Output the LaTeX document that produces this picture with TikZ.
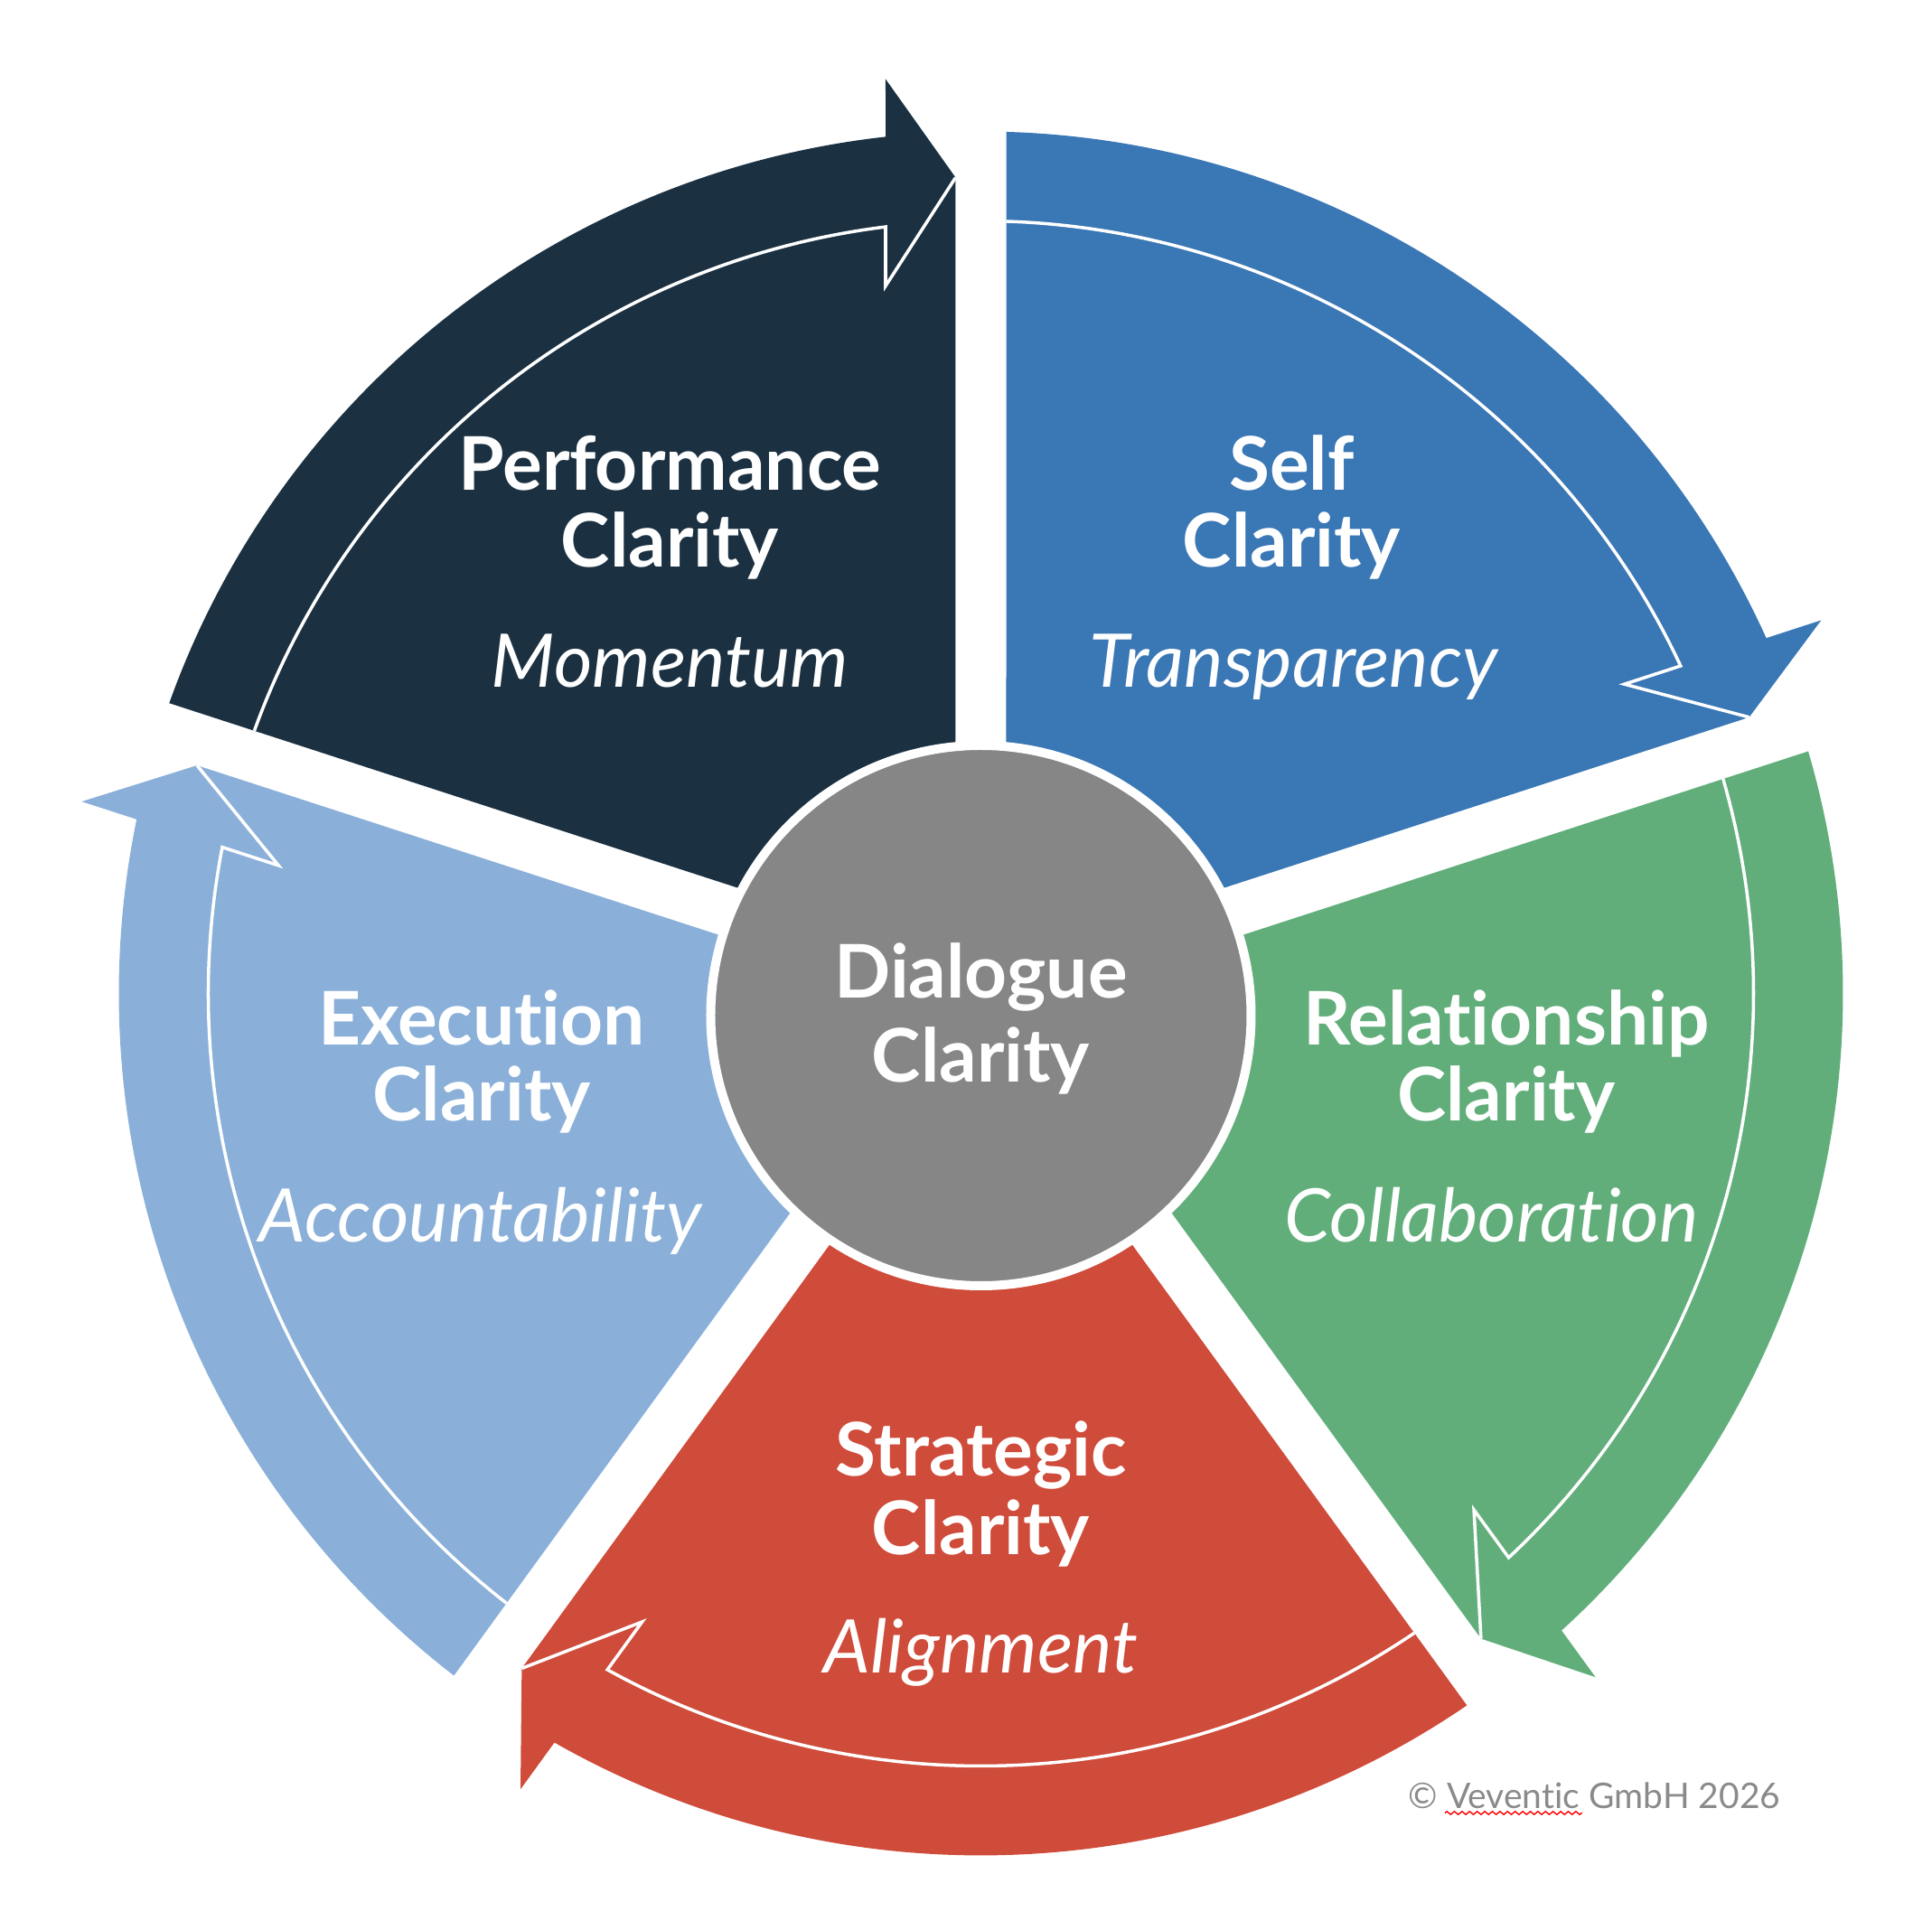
\documentclass[tikz,border=0pt]{standalone}
\usepackage{fontspec}
\setmainfont{Lato}[Ligatures={NoCommon}]
\usetikzlibrary{decorations.pathmorphing}
\definecolor{cnavy}{HTML}{1B3142}
\definecolor{cblue}{HTML}{3A77B5}
\definecolor{cgreen}{HTML}{61AE7B}
\definecolor{cred}{HTML}{CF4B3A}
\definecolor{clight}{HTML}{8AB0D9}
\definecolor{cgray}{HTML}{868686}
\definecolor{ctext}{HTML}{8A8A8A}
\tikzset{
  arrowline/.style={draw=white, line width=1.0pt},
  title/.style={text=white, font=\fontsize{23.3}{28}\selectfont\bfseries, anchor=base, inner sep=0pt},
  subtitle/.style={text=white, font=\fontsize{23.3}{28}\selectfont\itshape, anchor=base, inner sep=0pt},
  pics/cycleseg/.style={code={
    \fill[#1] (160.318:9.54) arc[start angle=160.318, end angle=96.349, radius=9.54]
      -- (-1.055,10.12) -- (-0.28,9.03) -- (-0.28,0.3854) -- cycle;
    \draw[arrowline] (-0.28,9.03) -- (-1.055,7.83) -- (97.088:8.55)
      arc[start angle=97.088, end angle=160.123, radius=8.55];
  }}
}
\begin{document}
\begin{tikzpicture}
\useasboundingbox (-10.855,-10.365) rectangle (10.525,10.995);
\pic[rotate=0] {cycleseg=cnavy};
\pic[rotate=-72] {cycleseg=cblue};
\pic[rotate=-144] {cycleseg=cgreen};
\pic[rotate=-216] {cycleseg=cred};
\pic[rotate=-288] {cycleseg=clight};
\filldraw[fill=cgray, draw=white, line width=0.1cm] (0,-0.245) circle[radius=2.99];

\node[title] (perfA) at (-3.44,5.568) {Performance};
\node[title] (perfB) at (-3.44,4.723) {Clarity};
\node[subtitle] (perfC) at (-3.44,3.387) {Momentum};
\node[title] (selfA) at (3.44,5.568) {Self};
\node[title] (selfB) at (3.44,4.723) {Clarity};
\node[subtitle] (selfC) at (3.46,3.387) {Transparency};
\node[title] (relA) at (5.814,-0.568) {Relationship};
\node[title] (relB) at (5.814,-1.413) {Clarity};
\node[subtitle] (relC) at (5.65,-2.749) {Collaboration};
\node[title] (stratA) at (0,-5.34) {Strategic};
\node[title] (stratB) at (0,-6.213) {Clarity};
\node[subtitle] (stratC) at (0,-7.522) {Alignment};
\node[title] (execA) at (-5.524,-0.568) {Execution};
\node[title] (execB) at (-5.524,-1.413) {Clarity};
\node[subtitle] (execC) at (-5.537,-2.749) {Accountability};
\node[title] (dlgA) at (0,-0.05) {Dialogue};
\node[title] (dlgB) at (0,-0.977) {Clarity};

\node[anchor=base west, inner sep=0pt, text=ctext, font=\fontsize{11.1}{13}\selectfont] (copy) at (4.725,-9.022) {© Veventic GmbH 2026};
\draw[red, line width=0.4pt, decorate, decoration={zigzag, amplitude=0.017cm, segment length=0.084cm}] (5.135,-9.07) -- (6.655,-9.07);
\end{tikzpicture}
\end{document}
